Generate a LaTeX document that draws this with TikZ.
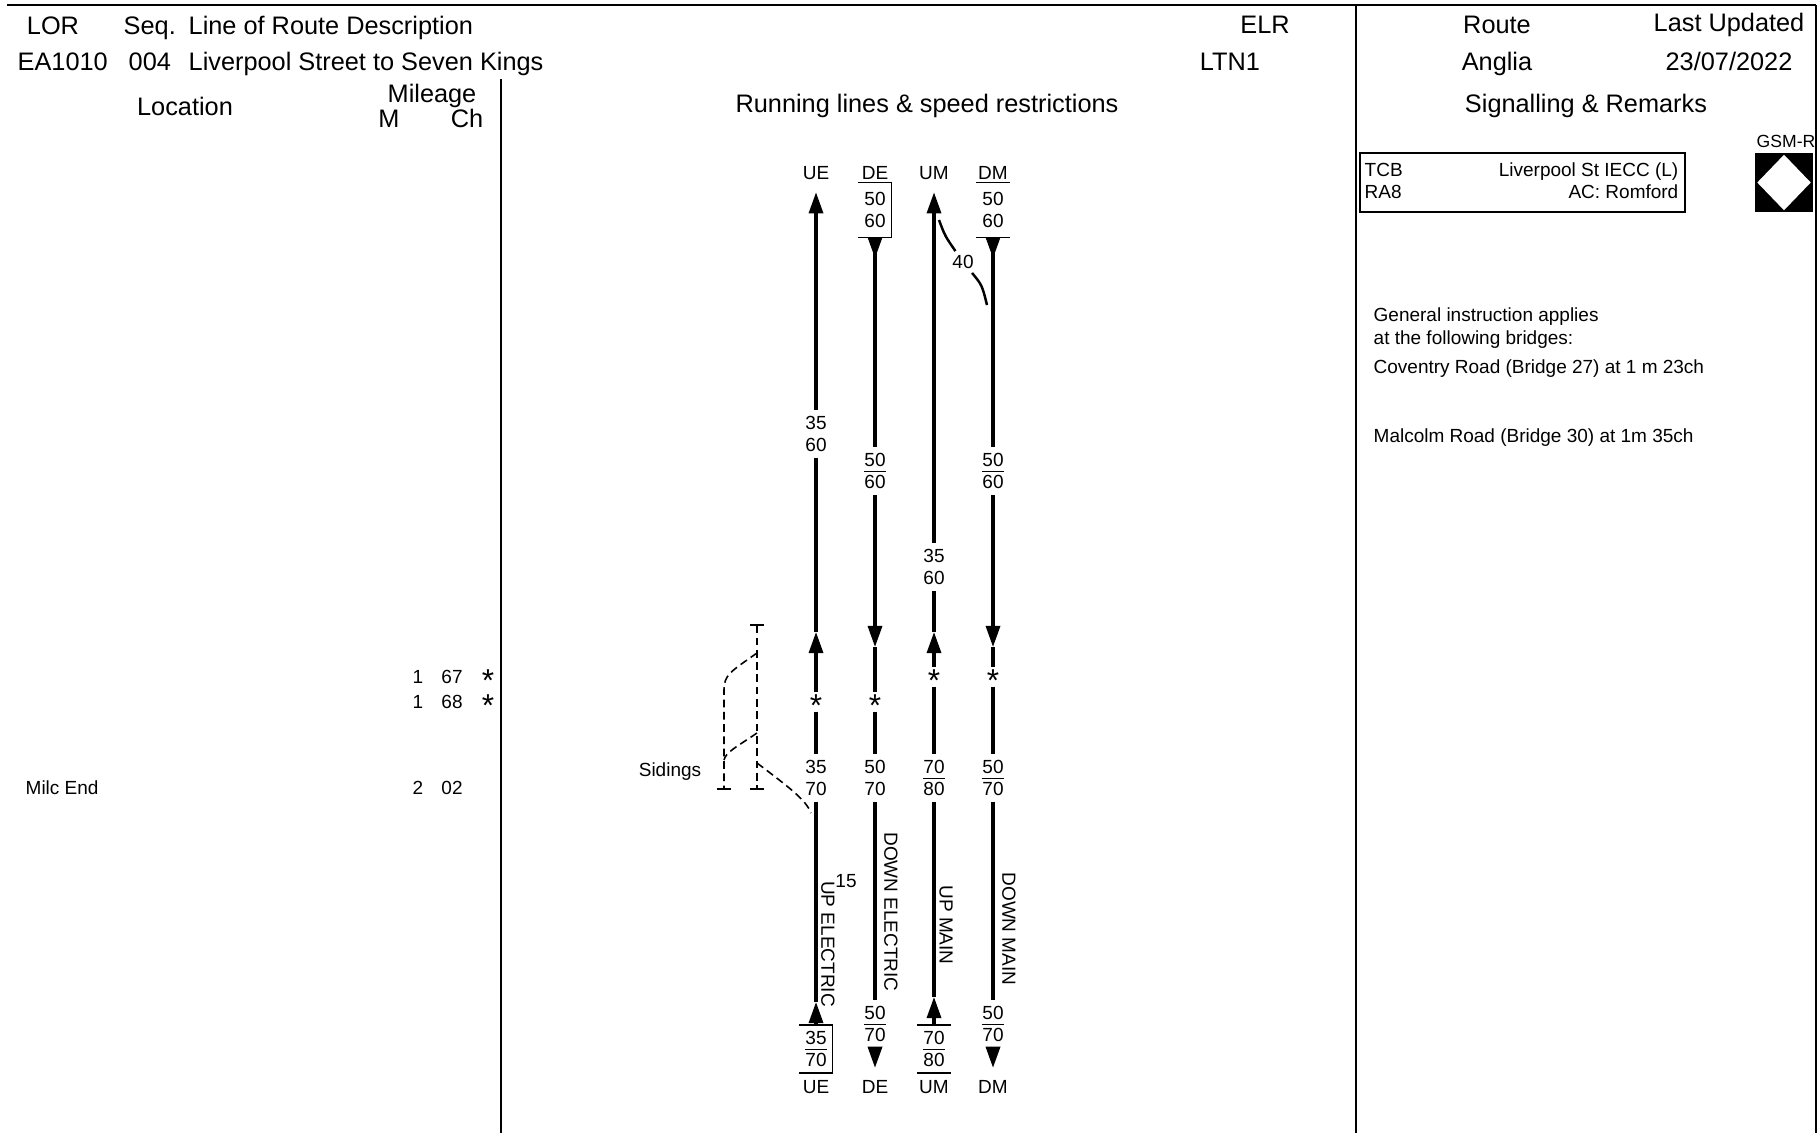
\documentclass[tikz,border=0pt]{standalone}
\usepackage{fontspec}
\setmainfont{Liberation Sans}
\usepackage{tikz}
\usetikzlibrary{arrows.meta, shapes.geometric, positioning, calc}
\newcommand{\astk}{\raisebox{-0.32em}[0.3em][0pt]{*}}

\begin{document}
\begin{tikzpicture}[
    x=0.01cm, y=-0.01cm,
    hdr/.style={font=\fontsize{7.2}{8.6}\selectfont, inner sep=0pt},
    sml/.style={font=\fontsize{5.4}{6.4}\selectfont, inner sep=0pt},
    rmk/.style={font=\fontsize{5.4}{6.4}\selectfont, inner sep=0pt, anchor=base west},
    lbl/.style={font=\fontsize{5.4}{6.4}\selectfont, inner sep=3.4pt},
    spd/.style={font=\fontsize{5.4}{6.4}\selectfont, align=center, inner sep=1.5pt},
    ast/.style={font=\fontsize{9}{9}\selectfont, inner sep=1.2pt},
    trk/.style={line width=0.9pt},
    dvg/.style={line width=0.7pt},
    sdg/.style={line width=0.45pt, dash pattern=on 2.2pt off 1.3pt},
    frm/.style={line width=0.5pt},
    hd/.tip={Triangle[length=6pt, width=4pt]}
]
\useasboundingbox (0,0) rectangle (1818,1133);

% Frame
\draw[frm] (7,5) -- (1816,5);
\draw[frm] (1816,5) -- (1816,1133);
\draw[frm] (1356,5) -- (1356,1133);
\draw[frm] (501,79) -- (501,1133);

% Heading
\node[hdr, anchor=base] (lor) at (53,34) {LOR};
\node[hdr, anchor=base west] (seq) at (123,34) {Seq.};
\node[hdr, anchor=base west] (desc) at (188,34) {Line of Route Description};
\node[hdr, anchor=base west] (lorv) at (17,70) {EA1010};
\node[hdr, anchor=base west] (seqv) at (128,70) {004};
\node[hdr, anchor=base west] (descv) at (188,70) {Liverpool Street to Seven Kings};
\node[hdr, anchor=base] (elr) at (1265,33) {ELR};
\node[hdr, anchor=base] (elrv) at (1230,70) {LTN1};
\node[hdr, anchor=base] (rte) at (1497,33) {Route};
\node[hdr, anchor=base] (rtev) at (1497,70) {Anglia};
\node[hdr, anchor=base] (upd) at (1729,31) {Last Updated};
\node[hdr, anchor=base] (updv) at (1729,70) {23/07/2022};
\node[hdr, anchor=base] (loc) at (185,115) {Location};
\node[hdr, anchor=base] (mil) at (432,102) {Mileage};
\node[hdr, anchor=base] (milm) at (389,127) {M};
\node[hdr, anchor=base] (milc) at (467,127) {Ch};
\node[hdr, anchor=base] (run) at (927,112) {Running lines \& speed restrictions};
\node[hdr, anchor=base] (sig) at (1586,112) {Signalling \& Remarks};

% Location and mileage
\node[sml, anchor=west] (mile) at (25,788) {Milc End};
\node[sml] (mm1) at (418,677) {1};
\node[sml] (mc1) at (452,677) {67};
\node[ast] (ma1) at (488,677) {\astk};
\node[sml] (mm2) at (418,702) {1};
\node[sml] (mc2) at (452,702) {68};
\node[ast] (ma2) at (488,702) {\astk};
\node[sml] (mm3) at (418,788) {2};
\node[sml] (mc3) at (452,788) {02};

% Line names
\node[lbl] (uet) at (816,173) {UE};
\node[lbl] (det) at (875,173) {DE};
\node[lbl] (umt) at (934,173) {UM};
\node[lbl] (dmt) at (993,173) {DM};
\node[lbl] (ueb) at (816,1087) {UE};
\node[lbl] (deb) at (875,1087) {DE};
\node[lbl] (umb) at (934,1087) {UM};
\node[lbl] (dmb) at (993,1087) {DM};

% Speeds
\node[spd, minimum width=0.3cm, minimum height=0.53cm] (de1) at (875,210) {50\\60};
\node[spd, minimum width=0.3cm, minimum height=0.53cm] (dm1) at (993,210) {50\\60};
\node[spd] (ue2) at (816,434) {35\\60};
\node[spd] (de2) at (875,471) {\underline{50}\\60};
\node[spd] (um2) at (934,567) {35\\60};
\node[spd] (dm2) at (993,471) {\underline{50}\\60};
\node[ast] (ue3) at (816,702) {\astk};
\node[ast] (de3) at (875,702) {\astk};
\node[ast] (um3) at (934,677) {\astk};
\node[ast] (dm3) at (993,677) {\astk};
\node[spd] (ue4) at (816,778) {35\\70};
\node[spd] (de4) at (875,778) {50\\70};
\node[spd] (um4) at (934,778) {\underline{70}\\80};
\node[spd] (dm4) at (993,778) {\underline{50}\\70};
\node[spd, minimum width=0.3cm, minimum height=0.44cm] (ue5) at (816,1049) {\underline{35}\\70};
\node[spd] (de5) at (875,1024) {\underline{50}\\70};
\node[spd, minimum width=0.3cm, minimum height=0.44cm] (um5) at (934,1049) {\underline{70}\\80};
\node[spd] (dm5) at (993,1024) {\underline{50}\\70};
\draw[thin] (de1.north west) -| (de1.south east) -- (de1.south west);
\draw[thin] (dm1.north west) -- (dm1.north east) (dm1.south west) -- (dm1.south east);
\draw[thin] (ue5.north west) -| (ue5.south east) -- (ue5.south west);
\draw[thin] (um5.north west) -- (um5.north east) (um5.south west) -- (um5.south east);

% Running lines
\coordinate (ueA) at (816,632);
\coordinate (ueB) at (816,1002);
\coordinate (deA) at (875,647);
\coordinate (umA) at (934,632);
\coordinate (umB) at (934,997);
\coordinate (dmA) at (993,647);
\draw[trk,{hd}-] (uet) -- (ue2);
\draw[trk] (ue2) -- (ueA);
\draw[trk,{hd}-] (ueA) -- (ue3);
\draw[trk] (ue3) -- (ue4);
\draw[trk] (ue4) -- (ueB);
\draw[trk,{hd}-] (ueB) -- (ue5);
\draw[trk,{hd[reversed]}-] (de1) -- (de2);
\draw[trk,-{hd}] (de2) -- (deA);
\draw[trk] (deA) -- (de3);
\draw[trk] (de3) -- (de4);
\draw[trk] (de4) -- (de5);
\draw[trk,-{hd}] (de5) -- (deb);
\draw[trk,{hd}-] (umt) -- (um2);
\draw[trk] (um2) -- (umA);
\draw[trk,{hd}-] (umA) -- (um3);
\draw[trk] (um3) -- (um4);
\draw[trk] (um4) -- (umB);
\draw[trk,{hd}-] (umB) -- (um5);
\draw[trk,{hd[reversed]}-] (dm1) -- (dm2);
\draw[trk,-{hd}] (dm2) -- (dmA);
\draw[trk] (dmA) -- (dm3);
\draw[trk] (dm3) -- (dm4);
\draw[trk] (dm4) -- (dm5);
\draw[trk,-{hd}] (dm5) -- (dmb);

% Turnout UM to DM
\node[sml, inner sep=1pt] (n40) at (963,262) {40};
\coordinate (um40) at (939,220);
\coordinate (dm40) at (987,305);
\draw[dvg] (um40) .. controls (945,236) .. (n40);
\draw[dvg] (n40) .. controls (982,285) .. (dm40);

% Line descriptions
\node[sml, rotate=-90] (uenm) at (828,944) {UP ELECTRIC};
\node[sml] (n15) at (846,881) {15};
\node[sml, rotate=-90] (denm) at (891,912) {DOWN ELECTRIC};
\node[sml, rotate=-90] (umnm) at (946,925) {UP MAIN};
\node[sml, rotate=-90] (dmnm) at (1009,929) {DOWN MAIN};

% Sidings
\node[sml] (sdl) at (670,772) {Sidings};
\coordinate (srt) at (757,624);
\coordinate (srb) at (757,790);
\coordinate (sx1) at (757,653);
\coordinate (slt) at (724,690);
\coordinate (slb) at (724,790);
\coordinate (sx2) at (757,733);
\coordinate (sx3) at (724,760);
\coordinate (sx4) at (757,763);
\coordinate (sx5) at (811,813);
\draw[sdg,{Bar[width=4pt]}-{Bar[width=4pt]}] (srt) -- (srb);
\draw[sdg,-{Bar[width=4pt]}] (sx1) .. controls (730,672) and (724,675) .. (slt) -- (slb);
\draw[sdg] (sx2) .. controls (735,748) and (726,752) .. (sx3);
\draw[sdg] (sx4) .. controls (790,788) and (806,800) .. (sx5);

% Signalling and remarks
\node[draw, thin, minimum width=3.25cm, minimum height=0.59cm, inner sep=0pt] (tcbbox) at (1522.5,182.5) {};
\node[rmk] (tcb) at (1364,176) {TCB};
\node[rmk] (ra8) at (1364,198) {RA8};
\node[rmk, anchor=base east] (ctl) at (1679,176) {Liverpool St IECC (L)};
\node[rmk, anchor=base east] (acr) at (1679,198) {AC: Romford};
\node[font=\fontsize{5}{6}\selectfont, inner sep=0pt, anchor=base] (gsmt) at (1786,147) {GSM-R};
\node[fill=black, minimum width=0.58cm, minimum height=0.59cm, inner sep=0pt] (gsm) at (1784,182.5) {};
\node[diamond, fill=white, minimum width=0.54cm, minimum height=0.56cm, inner sep=0pt] (gsmd) at (gsm) {};
\node[rmk] (gen1) at (1373,321) {General instruction applies};
\node[rmk] (gen2) at (1373,344) {at the following bridges:};
\node[rmk] (br27) at (1373,373) {Coventry Road (Bridge 27) at 1 m 23ch};
\node[rmk] (br30) at (1373,442) {Malcolm Road (Bridge 30) at 1m 35ch};

\end{tikzpicture}
\end{document}
